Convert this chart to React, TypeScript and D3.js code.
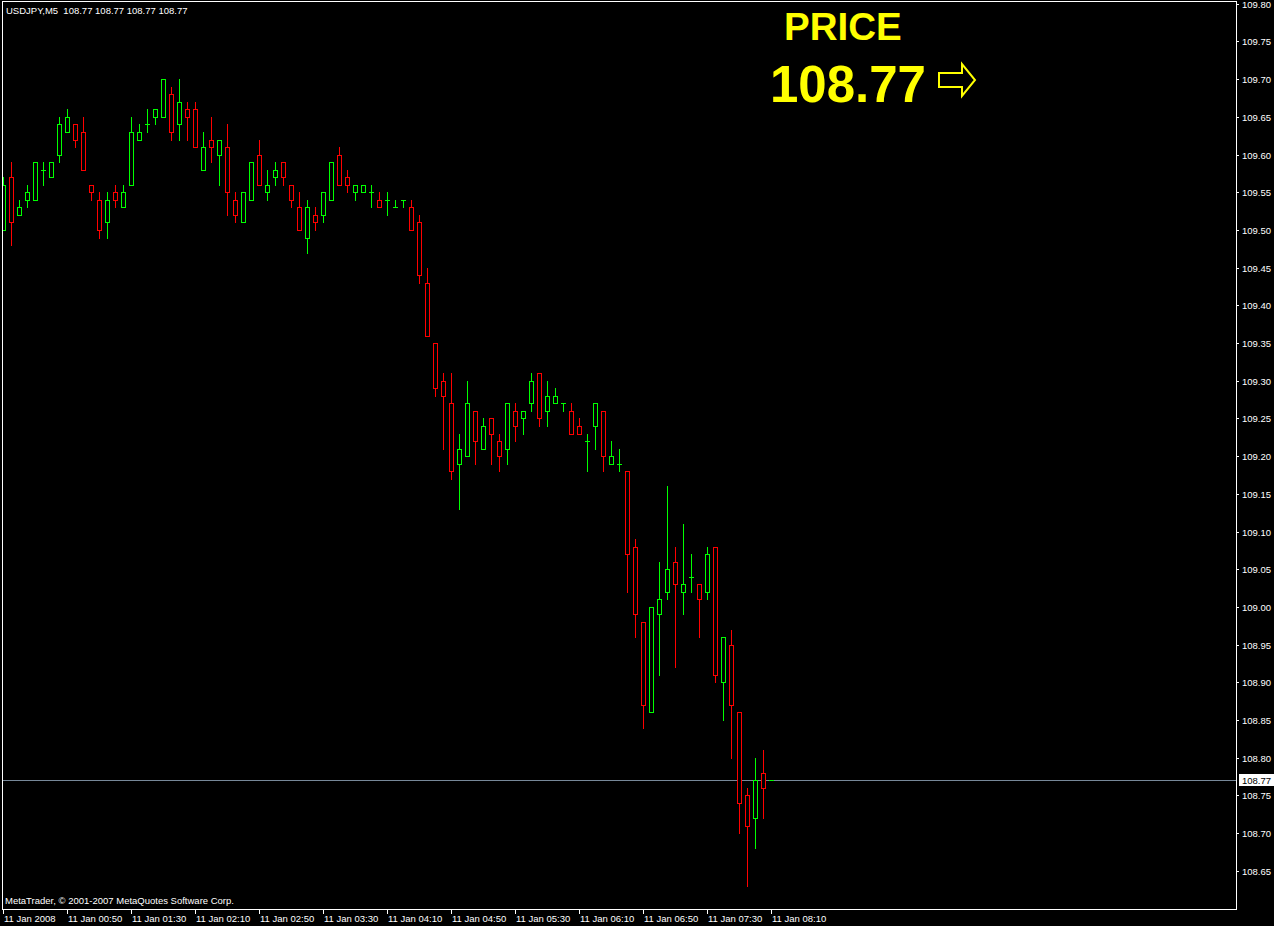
import React, { useRef, useEffect } from 'react';
import * as d3 from 'd3';

// USDJPY M5 bars, 11 Jan 2008 00:10 .. 08:10
const opens = [
  109.50, 109.57, 109.52, 109.54, 109.54, 109.58, 109.57, 109.60, 109.63, 109.64,
  109.63, 109.56, 109.54, 109.51, 109.55, 109.53, 109.56, 109.62, 109.64, 109.65,
  109.65, 109.68, 109.64, 109.66, 109.66, 109.58, 109.62, 109.60, 109.61, 109.54,
  109.51, 109.54, 109.60, 109.55, 109.57, 109.59, 109.56, 109.53, 109.49, 109.52,
  109.52, 109.54, 109.60, 109.57, 109.55, 109.55, 109.55, 109.54, 109.54, 109.53,
  109.54, 109.53, 109.51, 109.43, 109.35, 109.30, 109.27, 109.19, 109.20, 109.26,
  109.21, 109.25, 109.22, 109.21, 109.26, 109.25, 109.27, 109.31, 109.26, 109.27,
  109.27, 109.26, 109.24, 109.22, 109.24, 109.26, 109.19, 109.19, 109.18, 109.08,
  108.98, 108.86, 108.99, 109.02, 109.06, 109.02, 109.04, 109.03, 109.02, 109.08,
  108.90, 108.95, 108.86, 108.75, 108.72, 108.78, 108.77,
];
const highs = [
  109.57, 109.59, 109.54, 109.56, 109.59, 109.59, 109.59, 109.65, 109.66, 109.64,
  109.65, 109.56, 109.55, 109.55, 109.56, 109.56, 109.65, 109.64, 109.66, 109.66,
  109.70, 109.69, 109.70, 109.67, 109.67, 109.63, 109.65, 109.62, 109.64, 109.55,
  109.55, 109.59, 109.62, 109.58, 109.59, 109.59, 109.56, 109.55, 109.54, 109.53,
  109.55, 109.59, 109.61, 109.58, 109.56, 109.56, 109.56, 109.55, 109.55, 109.54,
  109.54, 109.54, 109.52, 109.45, 109.35, 109.31, 109.31, 109.23, 109.30, 109.26,
  109.25, 109.25, 109.23, 109.27, 109.27, 109.26, 109.31, 109.31, 109.30, 109.29,
  109.27, 109.27, 109.25, 109.23, 109.27, 109.26, 109.22, 109.21, 109.18, 109.09,
  108.98, 109.00, 109.06, 109.16, 109.08, 109.11, 109.07, 109.03, 109.08, 109.08,
  108.96, 108.97, 108.86, 108.76, 108.80, 108.81, 108.77,
];
const lows = [
  109.50, 109.48, 109.52, 109.53, 109.54, 109.56, 109.57, 109.59, 109.63, 109.61,
  109.58, 109.54, 109.49, 109.49, 109.53, 109.53, 109.56, 109.62, 109.63, 109.64,
  109.65, 109.62, 109.62, 109.62, 109.61, 109.58, 109.59, 109.56, 109.52, 109.51,
  109.51, 109.54, 109.56, 109.54, 109.56, 109.56, 109.53, 109.50, 109.47, 109.50,
  109.51, 109.54, 109.56, 109.55, 109.54, 109.55, 109.53, 109.53, 109.52, 109.53,
  109.53, 109.50, 109.43, 109.36, 109.28, 109.21, 109.17, 109.13, 109.20, 109.19,
  109.21, 109.19, 109.18, 109.19, 109.22, 109.23, 109.26, 109.24, 109.24, 109.27,
  109.26, 109.23, 109.23, 109.18, 109.21, 109.18, 109.19, 109.18, 109.02, 108.96,
  108.84, 108.86, 108.91, 109.01, 108.92, 108.99, 109.02, 108.96, 109.01, 108.90,
  108.85, 108.80, 108.70, 108.63, 108.68, 108.72, 108.77,
];
const closes = [
  109.56, 109.51, 109.53, 109.55, 109.59, 109.58, 109.59, 109.64, 109.65, 109.62,
  109.58, 109.55, 109.50, 109.54, 109.54, 109.55, 109.63, 109.63, 109.64, 109.66,
  109.70, 109.63, 109.67, 109.65, 109.61, 109.61, 109.61, 109.62, 109.55, 109.52,
  109.55, 109.59, 109.56, 109.56, 109.58, 109.57, 109.54, 109.50, 109.53, 109.51,
  109.55, 109.59, 109.56, 109.56, 109.56, 109.56, 109.55, 109.53, 109.54, 109.53,
  109.54, 109.50, 109.44, 109.36, 109.29, 109.28, 109.18, 109.21, 109.27, 109.22,
  109.24, 109.23, 109.20, 109.27, 109.24, 109.26, 109.30, 109.25, 109.28, 109.28,
  109.27, 109.23, 109.23, 109.22, 109.27, 109.20, 109.20, 109.19, 109.07, 108.99,
  108.87, 109.00, 109.01, 109.05, 109.03, 109.03, 109.04, 109.01, 109.07, 108.91,
  108.96, 108.87, 108.74, 108.71, 108.77, 108.76, 108.77,
];

const timeLabels = [
  '11 Jan 2008', '11 Jan 00:50', '11 Jan 01:30', '11 Jan 02:10', '11 Jan 02:50',
  '11 Jan 03:30', '11 Jan 04:10', '11 Jan 04:50', '11 Jan 05:30', '11 Jan 06:10',
  '11 Jan 06:50', '11 Jan 07:30', '11 Jan 08:10',
];
const priceTicks = [
  109.80, 109.75, 109.70, 109.65, 109.60, 109.55, 109.50, 109.45, 109.40, 109.35,
  109.30, 109.25, 109.20, 109.15, 109.10, 109.05, 109.00, 108.95, 108.90, 108.85,
  108.80, 108.75, 108.70, 108.65,
];
const lastPrice = 108.77;
const symbol = 'USDJPY,M5';

const W = 1274;
const H = 926;
const FONT = '"Liberation Sans", Arial, sans-serif';

const App: React.FC = () => {
  const svgRef = useRef<SVGSVGElement>(null);

  useEffect(() => {
    document.body.style.margin = '0';
    document.body.style.background = '#000';
    if (!svgRef.current) return;

    const svg = d3.select(svgRef.current);
    svg.selectAll('*').remove();

    const left = 2, right = 1236, top = 1, bottom = 909;

    const yScale = d3.scaleLinear().domain([108.65, 109.80]).range([871.3, 4.3]);
    const xScale = d3.scaleLinear().domain([0, 96]).range([3, 771]);
    const px = (v: number) => Math.floor(v) + 0.5;

    svg.append('rect').attr('width', W).attr('height', H).attr('fill', '#000');

    svg.append('defs').append('clipPath').attr('id', 'plot')
      .append('rect').attr('x', left + 1).attr('y', top + 1)
      .attr('width', right - left - 1).attr('height', bottom - top - 1);

    const plot = svg.append('g').attr('clip-path', 'url(#plot)')
      .attr('shape-rendering', 'crispEdges');

    // current price line
    plot.append('line')
      .attr('x1', left).attr('x2', right)
      .attr('y1', px(yScale(lastPrice))).attr('y2', px(yScale(lastPrice)))
      .attr('stroke', '#778899');

    // candles
    opens.forEach((o, i) => {
      const c = closes[i];
      const color = c >= o ? '#00ff00' : '#ff0000';
      const cx = Math.round(xScale(i));
      plot.append('line')
        .attr('x1', cx + 0.5).attr('x2', cx + 0.5)
        .attr('y1', Math.floor(yScale(highs[i]))).attr('y2', Math.floor(yScale(lows[i])) + 1)
        .attr('stroke', color);
      const yo = Math.floor(yScale(o));
      const yc = Math.floor(yScale(c));
      if (yo === yc) {
        plot.append('line')
          .attr('x1', cx - 2).attr('x2', cx + 3)
          .attr('y1', yo + 0.5).attr('y2', yo + 0.5)
          .attr('stroke', color);
      } else {
        plot.append('rect')
          .attr('x', cx - 1.5).attr('y', Math.min(yo, yc) + 0.5)
          .attr('width', 4).attr('height', Math.abs(yo - yc))
          .attr('fill', '#000').attr('stroke', color);
      }
    });

    // frame
    const frame = svg.append('g').attr('stroke', '#fff').attr('shape-rendering', 'crispEdges');
    frame.append('line').attr('x1', left + 0.5).attr('x2', left + 0.5).attr('y1', top).attr('y2', bottom + 1);
    frame.append('line').attr('x1', left).attr('x2', right + 1).attr('y1', top + 0.5).attr('y2', top + 0.5);
    frame.append('line').attr('x1', right + 0.5).attr('x2', right + 0.5).attr('y1', top).attr('y2', bottom + 1);
    frame.append('line').attr('x1', left).attr('x2', right + 1).attr('y1', bottom + 0.5).attr('y2', bottom + 0.5);

    // price axis
    priceTicks.forEach(v => {
      const yy = px(yScale(v));
      frame.append('line').attr('x1', right).attr('x2', right + 3).attr('y1', yy).attr('y2', yy);
      svg.append('text')
        .attr('x', 1242).attr('y', yScale(v) + 3.5)
        .attr('fill', '#fff').attr('font-family', FONT).attr('font-size', 9.5)
        .text(v.toFixed(2));
    });

    const ly = Math.floor(yScale(lastPrice));
    svg.append('rect')
      .attr('x', 1239).attr('y', ly - 6).attr('width', 35).attr('height', 12)
      .attr('fill', '#fff');
    svg.append('text')
      .attr('x', 1242).attr('y', ly + 3.5)
      .attr('fill', '#000').attr('font-family', FONT).attr('font-size', 9.5)
      .text(lastPrice.toFixed(2));

    // time axis
    timeLabels.forEach((t, k) => {
      const tx = Math.round(xScale(k * 8));
      frame.append('line').attr('x1', tx + 0.5).attr('x2', tx + 0.5).attr('y1', bottom).attr('y2', bottom + 5);
      svg.append('text')
        .attr('x', tx + 1).attr('y', 921.5)
        .attr('fill', '#fff').attr('font-family', FONT).attr('font-size', 9.5)
        .text(t);
    });

    // header and footer
    svg.append('text')
      .attr('x', 6).attr('y', 13.5)
      .attr('fill', '#fff').attr('font-family', FONT).attr('font-size', 9.5)
      .attr('xml:space', 'preserve')
      .text(`${symbol}  ${[lastPrice, lastPrice, lastPrice, lastPrice].map(v => v.toFixed(2)).join(' ')}`);
    svg.append('text')
      .attr('x', 5).attr('y', 904)
      .attr('fill', '#fff').attr('font-family', FONT).attr('font-size', 9.5)
      .text('MetaTrader, © 2001-2007 MetaQuotes Software Corp.');

    // price display
    svg.append('text')
      .attr('x', 784).attr('y', 39.5)
      .attr('fill', '#ffff00').attr('font-family', FONT).attr('font-weight', 'bold')
      .attr('font-size', 38.5)
      .text('PRICE');
    svg.append('text')
      .attr('x', 770).attr('y', 102)
      .attr('fill', '#ffff00').attr('font-family', FONT).attr('font-weight', 'bold')
      .attr('font-size', 51)
      .text(lastPrice.toFixed(2));
    svg.append('polygon')
      .attr('points', '939,73 962,73 962,64 975,80 962,96 962,87 939,87')
      .attr('fill', 'none').attr('stroke', '#ffff00').attr('stroke-width', 2)
      .attr('stroke-linejoin', 'miter');
  }, []);

  return <svg ref={svgRef} width={W} height={H} style={{ display: 'block' }}></svg>;
};

export default App;
